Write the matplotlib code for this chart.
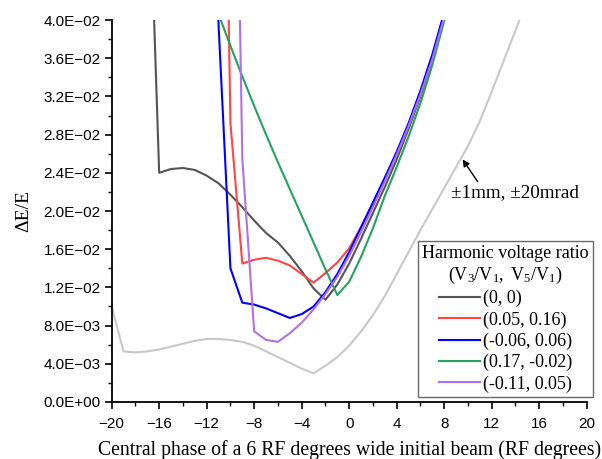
import matplotlib
matplotlib.use("Agg")
import matplotlib.pyplot as plt
from matplotlib.ticker import MultipleLocator, FuncFormatter

plt.rcParams['mathtext.fontset'] = 'custom'
plt.rcParams['mathtext.rm'] = 'Liberation Serif'
plt.rcParams['mathtext.it'] = 'Liberation Serif:italic'

# ---- data ----
x_00 = [-17, -16, -15, -14, -13, -12, -11, -10, -9, -8, -7, -6, -5, -4, -3, -2, -1, 0, 1, 2, 3, 4, 5, 6, 7, 8]
y_00 = [0.0616, 0.0240, 0.0244, 0.0245, 0.0243, 0.0237, 0.0229, 0.0217, 0.0204, 0.0190, 0.0177, 0.0167,
        0.0153, 0.0137, 0.0119, 0.0107, 0.0123, 0.0145, 0.0171, 0.0198, 0.0225, 0.0254, 0.0286, 0.0320, 0.0358, 0.0402]

x_red = [-11, -10, -9, -8, -7, -6, -5, -4, -3, -2, -1, 0, 1, 2, 3, 4, 5, 6, 7, 8]
y_red = [0.1030, 0.0292, 0.0145, 0.0149, 0.0151, 0.0148, 0.0143, 0.0134, 0.0125, 0.0135, 0.0146, 0.0161,
         0.0183, 0.0207, 0.0233, 0.0260, 0.0290, 0.0323, 0.0361, 0.0405]

x_blue = [-12, -11, -10, -9, -8, -7, -6, -5, -4, -3, -2, -1, 0, 1, 2, 3, 4, 5, 6, 7, 8]
y_blue = [0.0800, 0.0395, 0.0140, 0.0104, 0.0102, 0.0098, 0.0093, 0.0088, 0.0092, 0.0100, 0.0115, 0.0134,
          0.0157, 0.0183, 0.0209, 0.0235, 0.0262, 0.0292, 0.0326, 0.0364, 0.0408]

x_green = [-12, -11, -10, -9, -8, -7, -6, -5, -4, -3, -2, -1, 0, 1, 2, 3, 4, 5, 6, 7, 8]
y_green = [0.0440, 0.0406, 0.0373, 0.0341, 0.0310, 0.0280, 0.0251, 0.0223, 0.0195, 0.0167, 0.0139, 0.0112,
           0.0126, 0.0152, 0.0182, 0.0216, 0.0246, 0.0278, 0.0313, 0.0353, 0.0399]

x_purple = [-10, -9, -8, -7, -6, -5, -4, -3, -2, -1, 0, 1, 2, 3, 4, 5, 6, 7, 8]
y_purple = [0.0980, 0.0255, 0.0074, 0.0065, 0.0063, 0.0072, 0.0083, 0.0097, 0.0113, 0.0131, 0.0153,
            0.0178, 0.0204, 0.0231, 0.0259, 0.0289, 0.0322, 0.0359, 0.0403]

x_mm = [-20, -19, -18, -17, -16, -15, -14, -13, -12, -11, -10, -9, -8, -7, -6, -5, -4, -3, -2, -1,
        0, 1, 2, 3, 4, 5, 6, 7, 8, 9, 10, 11, 12, 13, 14, 15]
y_mm = [0.0100, 0.0053, 0.0052, 0.0053, 0.0055, 0.0058, 0.0061, 0.0064, 0.0066, 0.0066, 0.0065, 0.0063,
        0.0059, 0.0053, 0.0047, 0.0041, 0.0035, 0.0030, 0.0038, 0.0047, 0.0059, 0.0074, 0.0091, 0.0111,
        0.0134, 0.0157, 0.0180, 0.0202, 0.0224, 0.0246, 0.0268, 0.0294, 0.0325, 0.0357, 0.0389, 0.0421]

labels = ["(0, 0)", "(0.05, 0.16)", "(-0.06, 0.06)", "(0.17, -0.02)", "(-0.11, 0.05)"]
colors = ["#555555", "#ff4545", "#0000ff", "#24a35e", "#b072e2"]
annot_text = "±1mm, ±20mrad"

# ---- plot ----
fig = plt.figure(figsize=(6.02, 4.59), dpi=100)
ax = fig.add_axes([0.1855, 0.1242, 0.7891, 0.8322])

lw = 1.5
ax.plot(x_mm, y_mm, color="#c8c8c8", lw=lw)
series = [(x_00, y_00), (x_red, y_red), (x_blue, y_blue), (x_green, y_green), (x_purple, y_purple)]
handles = []
for (xs, ys), c, lab in zip(series, colors, labels):
    h, = ax.plot(xs, ys, color=c, lw=lw, label=lab)
    handles.append(h)

ax.set_xlim(-20, 20)
ax.set_ylim(0, 0.04)

for s in ["top", "right"]:
    ax.spines[s].set_visible(False)
for s in ["left", "bottom"]:
    ax.spines[s].set_linewidth(1.3)

ax.xaxis.set_major_locator(MultipleLocator(4))
ax.xaxis.set_minor_locator(MultipleLocator(2))
ax.yaxis.set_major_locator(MultipleLocator(0.004))
ax.yaxis.set_minor_locator(MultipleLocator(0.002))
ax.tick_params(which="major", direction="out", length=5, width=1.2, labelsize=11)
ax.tick_params(which="minor", direction="out", length=3, width=1.0)
ax.tick_params(axis="x", which="major", pad=5.5)
ax.tick_params(axis="y", which="major", pad=3)


def yfmt(v, pos):
    s = "%.1E" % v
    return s.replace("-", "\u2212")


def xfmt(v, pos):
    return ("%d" % round(v)).replace("-", "\u2212")


ax.yaxis.set_major_formatter(FuncFormatter(yfmt))
ax.xaxis.set_major_formatter(FuncFormatter(xfmt))
for t in ax.get_xticklabels() + ax.get_yticklabels():
    t.set_family("Liberation Sans")

ax.set_xlabel("Central phase of a 6 RF degrees wide initial beam (RF degrees)",
              family="Liberation Serif", fontsize=14.2, labelpad=7)
ax.set_ylabel("ΔE/E", family="Liberation Serif", fontsize=14, labelpad=8)

ax.annotate(annot_text, xy=(9.55, 0.0254), xytext=(8.6, 0.0219),
            fontsize=13.8, family="Liberation Serif", va="center", ha="left",
            arrowprops=dict(arrowstyle="-|>", color="black", lw=1.0,
                            shrinkA=0, shrinkB=0, mutation_scale=10,
                            relpos=(0.22, 1.0)))

leg = ax.legend(handles=handles, loc="upper left",
                bbox_to_anchor=(0.694, 0.476), bbox_transform=fig.transFigure,
                title="Harmonic voltage ratio\n$\\mathrm{(V_3/V_1,\\ V_5/V_1)}$",
                prop={"family": "Liberation Serif", "size": 13},
                handlelength=2.3, handletextpad=0.15, labelspacing=0.22,
                borderpad=0.25, borderaxespad=0, frameon=True, fancybox=False)
leg.get_title().set_family("Liberation Serif")
leg.get_title().set_fontsize(13)
leg.get_title().set_multialignment("center")
leg.get_frame().set_edgecolor("#444444")
leg.get_frame().set_linewidth(1.0)

fig.savefig("out.png", dpi=100)
